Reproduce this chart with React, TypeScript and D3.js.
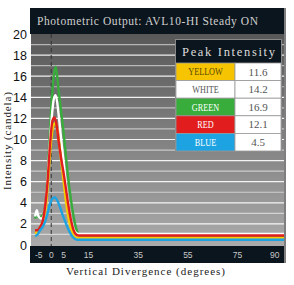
import React from "react";
import * as d3 from "d3";

const seriesNames = ["GREEN", "WHITE", "YELLOW", "RED", "BLUE"];
const seriesColors = ["#38ad3c", "#ffffff", "#f6cc00", "#e11d1d", "#1ea3e2"];

const greenData: [number, number][] = [[-6.5,2.5],[-5.8,2.9],[-5,2.6],[-4,2.7],[-3,3.0],[-2,4.6],[-1,8.6],[0,13],[1,16],[1.8,16.9],[3,14.6],[4,12.6],[5,10.6],[6,8.2],[7,6],[8,4.2],[9,2.7],[10,1.6],[11,1.0],[12,0.8],[93.7,0.8]];
const whiteData: [number, number][] = [[-6.5,2.7],[-5.8,3.3],[-5.3,2.8],[-4,2.5],[-3,2.8],[-2,4.4],[-1,8],[0,11.5],[1,13.8],[1.8,14.2],[3,12.3],[4,10],[5,7.8],[6,5.5],[7,3.6],[8,2.3],[9,1.5],[10,1.15],[11,1.05],[93.7,1.05]];
const yellowData: [number, number][] = [[-6.5,1.1],[-5,1.4],[-4,1.9],[-3,2.5],[-2,4],[-1,7],[0,10],[1,11.4],[1.8,11.6],[3,10],[4,8],[5,6],[6,4],[7,2.5],[8,1.5],[9,0.9],[10,0.7],[93.7,0.7]];
const redData: [number, number][] = [[-6.5,1.4],[-5.5,1.4],[-4.5,1.7],[-3.5,2.2],[-2.5,3.6],[-1.5,6],[-0.5,9.5],[0.5,11.8],[1.3,12.1],[2.2,11.3],[3,9.8],[4,8.2],[5,6.8],[6,5.2],[7,3.6],[8,2.3],[9,1.4],[10,1.0],[11,0.9],[93.7,0.9]];
const blueData: [number, number][] = [[-6.5,0.85],[-5.5,1.0],[-4.5,1.4],[-3.5,1.7],[-2.5,2.2],[-1.5,3],[-0.5,3.9],[0.5,4.4],[1.5,4.5],[2.5,4.2],[3.5,3.6],[4.5,2.9],[5.5,2.3],[6.5,1.7],[7.5,1.2],[8.5,0.8],[9.5,0.6],[10.5,0.5],[93.7,0.5]];

const tableNames = ["YELLOW", "WHITE", "GREEN", "RED", "BLUE"];
const tableFill = ["#f6c400", "#ffffff", "#38ad3c", "#e11d1d", "#1ea3e2"];
const tableText = ["#5a4a00", "#555555", "#ffffff", "#ffffff", "#ffffff"];
const peakValues = ["11.6", "14.2", "16.9", "12.1", "4.5"];

const xTicks = [-5, 0, 5, 15, 35, 55, 75, 90];
const yTicks = [0, 2, 4, 6, 8, 10, 12, 14, 16, 18, 20];
const gridValues = d3.range(1, 20, 1);

export default function App() {
  const W = 294, H = 285;
  const left = 31, right = 284, top = 34, bottom = 245;
  const x = d3.scaleLinear().domain([-8.15, 93.7]).range([left, right]);
  const y = d3.scaleLinear().domain([0, 20]).range([bottom, top]);
  const line = d3.line<[number, number]>().x(d => x(d[0])).y(d => y(d[1])).curve(d3.curveMonotoneX);
  const all = [greenData, whiteData, yellowData, redData, blueData];
  const serif = "'Liberation Serif', 'DejaVu Serif', serif";

  const tx = 176, tw = 105, tsplit = 235, thTop = 40, thH = 23, rowH = 17.6;

  return (
    <svg width={W} height={H} style={{ position: "absolute", left: 0, top: 0, background: "#fff" }}>
      <defs>
        <linearGradient id="bg" x1="0" y1="0" x2="0" y2="1">
          <stop offset="0" stopColor="#585858" />
          <stop offset="1" stopColor="#ababab" />
        </linearGradient>
        <clipPath id="plot">
          <rect x={left} y={top} width={right - left} height={bottom - top + 2} />
        </clipPath>
      </defs>
      <rect x={left} y={top} width={right - left} height={bottom - top + 2} fill="url(#bg)" />
      {gridValues.map(v => (
        <line key={v} x1={left} x2={right} y1={y(v)} y2={y(v)} stroke="#ffffff" strokeOpacity={v % 2 === 0 ? 0.9 : 0.55} strokeWidth={1.2} />
      ))}
      <line x1={x(0)} x2={x(0)} y1={top} y2={bottom + 2} stroke="#333" strokeWidth={1} strokeDasharray="4,3" />
      <g clipPath="url(#plot)">
        {all.map((d, i) => (
          <path key={i} d={line(d) || ""} fill="none" stroke={seriesColors[i]} strokeWidth={2.4} strokeLinejoin="round" />
        ))}
      </g>
      {/* title bar */}
      <rect x={30} y={8} width={254} height={26} fill="#0b151d" />
      <text x={37} y={25} fill="#d0d0d0" fontFamily={serif} fontSize={11.5} textLength={221} lengthAdjust="spacing">Photometric Output: AVL10-HI Steady ON</text>
      {/* bottom bar */}
      <rect x={30} y={246} width={254} height={17} fill="#0b151d" />
      {xTicks.map(t => (
        <text key={t} x={x(t)} y={258} fill="#c8c8c8" fontFamily="'Liberation Sans', Arial, sans-serif" fontSize={8.5} textAnchor="middle">{t}</text>
      ))}
      {yTicks.map(t => (
        <text key={t} x={27} y={y(t) + 4.5} fill="#111" fontFamily="'Liberation Sans', Arial, sans-serif" fontSize={12.5} textAnchor="end">{t}</text>
      ))}
      <text x={66} y={275} fill="#222" fontFamily={serif} fontSize={11} textLength={159} lengthAdjust="spacing">Vertical Divergence (degrees)</text>
      <text transform={`translate(11,190) rotate(-90)`} fill="#222" fontFamily={serif} fontSize={11} textLength={98} lengthAdjust="spacing">Intensity (candela)</text>
      {/* legend table */}
      <rect x={tx - 1} y={thTop - 1} width={tw + 2} height={thH + rowH * 5 + 2} fill="#888" />
      <rect x={tx} y={thTop} width={tw} height={thH} fill="#0b151d" />
      <text x={tx + 6} y={thTop + 16} fill="#dcdcdc" fontFamily={serif} fontSize={12.5} textLength={tw - 12} lengthAdjust="spacing">Peak Intensity</text>
      {tableNames.map((n, i) => {
        const ry = thTop + thH + i * rowH;
        return (
          <g key={n}>
            <rect x={tx} y={ry} width={tsplit - tx} height={rowH} fill={tableFill[i]} stroke="#999" strokeWidth={0.8} />
            <rect x={tsplit} y={ry} width={tx + tw - tsplit} height={rowH} fill="#fff" stroke="#999" strokeWidth={0.8} />
            <text x={(tx + tsplit) / 2} y={ry + 12.5} fill={tableText[i]} fontFamily={serif} fontSize={10.5} textAnchor="middle" transform={`translate(${(tx + tsplit) / 2},0) scale(0.78,1) translate(${-(tx + tsplit) / 2},0)`}>{n}</text>
            <text x={(tsplit + tx + tw) / 2} y={ry + 12.5} fill="#555" fontFamily={serif} fontSize={11} textAnchor="middle">{peakValues[i]}</text>
          </g>
        );
      })}
      <line x1={right + 1} x2={right + 1} y1={8} y2={263} stroke="#555" strokeWidth={1.5} />
    </svg>
  );
}
